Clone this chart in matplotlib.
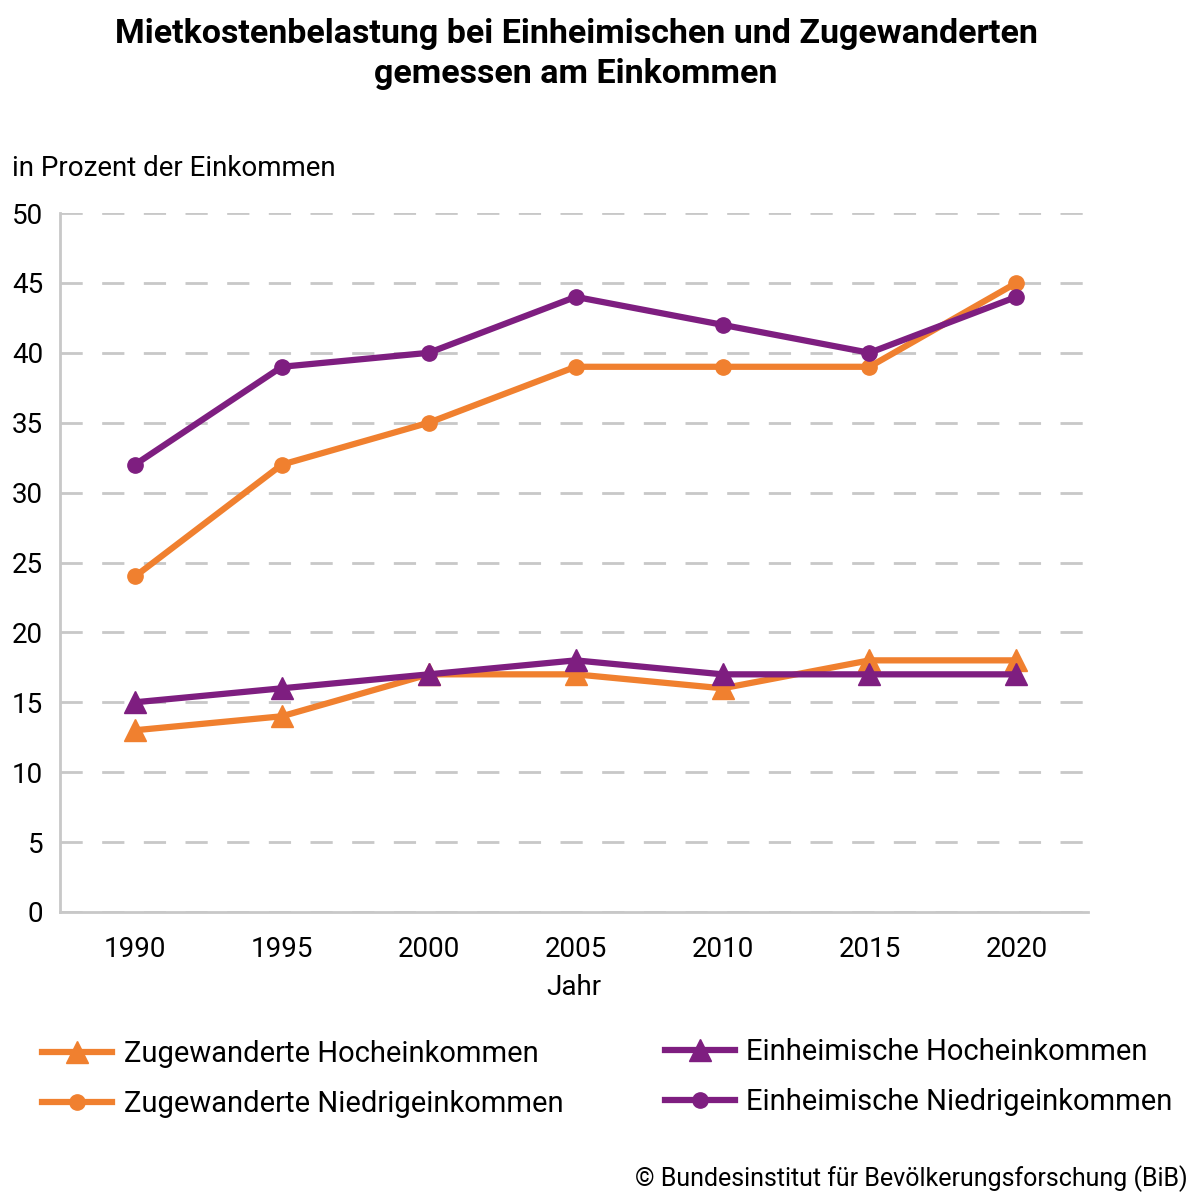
import matplotlib.pyplot as plt
from matplotlib.lines import Line2D

plt.rcParams['font.family'] = ['Roboto', 'DejaVu Sans']

years = [1990, 1995, 2000, 2005, 2010, 2015, 2020]
zug_hoch = [13, 14, 17, 17, 16, 18, 18]
ein_hoch = [15, 16, 17, 18, 17, 17, 17]
zug_niedrig = [24, 32, 35, 39, 39, 39, 45]
ein_niedrig = [32, 39, 40, 44, 42, 40, 44]
y_ticks = [0, 5, 10, 15, 20, 25, 30, 35, 40, 45, 50]

orange = '#F0802F'
purple = '#7E1E80'

fig = plt.figure(figsize=(12, 12), dpi=100)
ax = fig.add_axes([0.05, 0.24, 0.857, 0.5825])

ax.plot(years, zug_niedrig, color=orange, lw=4.5, marker='o', ms=11, zorder=3)
ax.plot(years, ein_niedrig, color=purple, lw=4.5, marker='o', ms=11, zorder=4)
ax.plot(years, zug_hoch, color=orange, lw=4.5, marker='^', ms=16, zorder=3)
ax.plot(years, ein_hoch, color=purple, lw=4.5, marker='^', ms=16, zorder=4)

ax.set_xlim(1987.45, 2022.45)
ax.set_ylim(0, 50)
ax.set_yticks(y_ticks)
ax.set_xticks(years)
ax.tick_params(length=0, labelsize=20, pad=12)
ax.tick_params(axis='x', pad=17)
ax.grid(axis='y', color='#c8c8c8', lw=2, dashes=(8, 7))
ax.set_axisbelow(True)
for s in ['top', 'right']:
    ax.spines[s].set_visible(False)
for s in ['left', 'bottom']:
    ax.spines[s].set_color('#c8c8c8')
    ax.spines[s].set_linewidth(2)
ax.set_xlabel('Jahr', fontsize=20, labelpad=8)

fig.text(0.48, 0.985, 'Mietkostenbelastung bei Einheimischen und Zugewanderten\ngemessen am Einkommen',
         ha='center', va='top', fontsize=24.5, fontweight='bold', linespacing=1.3)
fig.text(0.01, 0.86, 'in Prozent der Einkommen', ha='left', va='center', fontsize=20)

left_handles = [
    Line2D([], [], color=orange, lw=4.5, marker='^', ms=16),
    Line2D([], [], color=orange, lw=4.5, marker='o', ms=11),
]
right_handles = [
    Line2D([], [], color=purple, lw=4.5, marker='^', ms=16),
    Line2D([], [], color=purple, lw=4.5, marker='o', ms=11),
]
left_labels = ['Zugewanderte Hocheinkommen', 'Zugewanderte Niedrigeinkommen']
right_labels = ['Einheimische Hocheinkommen', 'Einheimische Niedrigeinkommen']
leg_kw = dict(loc='upper left', frameon=False, fontsize=21, handlelength=2.4,
              labelspacing=0.75, handletextpad=0.4, borderpad=0, borderaxespad=0)
fig.legend(left_handles, left_labels, bbox_to_anchor=(0.035, 0.133), **leg_kw)
fig.legend(right_handles, right_labels, bbox_to_anchor=(0.554, 0.135), **leg_kw)

fig.text(0.99, 0.018, '© Bundesinstitut für Bevölkerungsforschung (BiB)',
         ha='right', va='center', fontsize=18)

fig.savefig('out.png', dpi=100, facecolor='white')
